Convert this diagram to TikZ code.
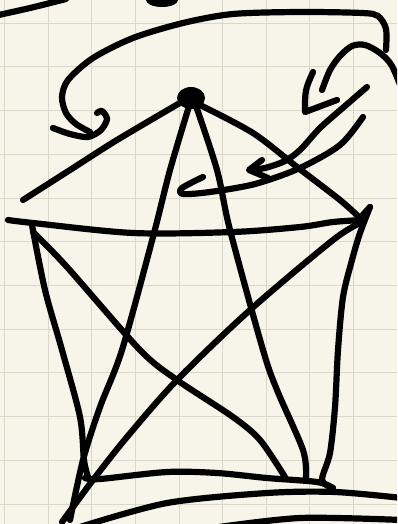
\documentclass[tikz,border=0pt]{standalone}
\usepackage{tikz}

\definecolor{paper}{RGB}{247,245,233}
\definecolor{gridtone}{RGB}{218,216,203}

\tikzset{
ink/.style={line width=6.2pt, line cap=round, line join=round, black},
gridline/.style={line width=1pt, gridtone}
}

\begin{document}
\begin{tikzpicture}[x=1pt,y=-1pt]

%%%%%%%%%%%%%%%%%%%%%%%%%%%%%%%%%%%%%%%%%%%%%%%%%%%%%%%%%%%%
% PAPER AND GRID
%%%%%%%%%%%%%%%%%%%%%%%%%%%%%%%%%%%%%%%%%%%%%%%%%%%%%%%%%%%%

\useasboundingbox (0,0) rectangle (397,524);
\clip (0,0) rectangle (397,524);
\fill[paper] (0,0) rectangle (397,524);

\foreach \i in {0,...,8}
  \draw[gridline] ({4.7+43.6*\i},0) -- ++(0,524);
\foreach \j in {0,...,11}
  \draw[gridline] (0,{23.3+43.7*\j}) -- ++(397,0);

%%%%%%%%%%%%%%%%%%%%%%%%%%%%%%%%%%%%%%%%%%%%%%%%%%%%%%%%%%%%
% Top strokes
%%%%%%%%%%%%%%%%%%%%%%%%%%%%%%%%%%%%%%%%%%%%%%%%%%%%%%%%%%%%

\draw[ink] plot[smooth] coordinates {(-6,16) (30,8) (66,-1)};
\fill (162,0) ellipse (16 and 7);

% long arrow to the left
\draw[ink] plot[smooth] coordinates {
(386,50) (386,29) (378,16) (362,13) (300,12) (233,14) (183,23)
(133,38) (93,58) (68,80) (62,97) (66,113) (76,124) (90,132)};
\draw[ink] plot[smooth] coordinates {
(53,128) (70,134) (88,137) (101,130) (107,119) (102,111) (97,113)};

% hook arrow on the right
\draw[ink] plot[smooth] coordinates {
(404,95) (392,66) (380,53) (365,45) (352,46) (340,56) (330,70) (322,90)};
\draw[ink] (313,72) .. controls (305,90) .. (305,112) -- (337,100);

% two strokes into the star
\draw[ink] plot[smooth] coordinates {
(367,87) (345,106) (320,128) (300,150) (285,161) (265,168) (250,170)};
\draw[ink] (262,160) -- (249,170) -- (268,178);
\draw[ink] plot[smooth] coordinates {
(363,117) (340,145) (300,168) (255,184) (210,192) (183,194) (182,188) (203,177)};

%%%%%%%%%%%%%%%%%%%%%%%%%%%%%%%%%%%%%%%%%%%%%%%%%%%%%%%%%%%%
% Pentagon
%%%%%%%%%%%%%%%%%%%%%%%%%%%%%%%%%%%%%%%%%%%%%%%%%%%%%%%%%%%%

\fill (191,98) ellipse (14 and 11);

\draw[ink] plot[smooth] coordinates {(185,100) (117,140) (70,170) (23,200)};
\draw[ink] plot[smooth] coordinates {
(200,105) (253,133) (297,167) (340,200) (360,218)} -- (370,207);
\draw[ink] plot[smooth] coordinates {
(8,220) (33,223) (133,233) (233,232) (300,227) (333,222) (362,220)};
\draw[ink] plot[smooth] coordinates {
(370,207) (360,233) (352,260) (343,297) (338,350) (335,407) (330,453) (322,480) (333,488)};
\draw[ink] plot[smooth] coordinates {
(32,225) (45,290) (62,350) (80,417) (84,460) (88,477)};
\draw[ink] plot[smooth] coordinates {
(85,478) (100,479) (167,472) (217,473) (267,478) (317,482) (333,488)};

%%%%%%%%%%%%%%%%%%%%%%%%%%%%%%%%%%%%%%%%%%%%%%%%%%%%%%%%%%%%
% Star and diagonals
%%%%%%%%%%%%%%%%%%%%%%%%%%%%%%%%%%%%%%%%%%%%%%%%%%%%%%%%%%%%

\draw[ink] plot[smooth] coordinates {
(190,103) (170,170) (153,237) (122,350) (100,407) (83,460) (70,520)};
\draw[ink] plot[smooth] coordinates {
(195,103) (217,170) (230,230) (263,350) (277,390) (303,450) (306,477)};
\draw[ink] plot[smooth] coordinates {
(33,232) (67,267) (140,350) (177,380) (233,417) (260,440) (285,477)};
\draw[ink] plot[smooth] coordinates {
(362,222) (333,240) (250,310) (177,380) (127,437) (93,480) (62,522)};

%%%%%%%%%%%%%%%%%%%%%%%%%%%%%%%%%%%%%%%%%%%%%%%%%%%%%%%%%%%%
% Bottom strokes
%%%%%%%%%%%%%%%%%%%%%%%%%%%%%%%%%%%%%%%%%%%%%%%%%%%%%%%%%%%%

\draw[ink] plot[smooth] coordinates {(80,527) (167,503) (267,493) (335,492) (402,498)};
\draw[ink] plot[smooth] coordinates {(212,528) (300,518) (402,520)};

\end{tikzpicture}
\end{document}
